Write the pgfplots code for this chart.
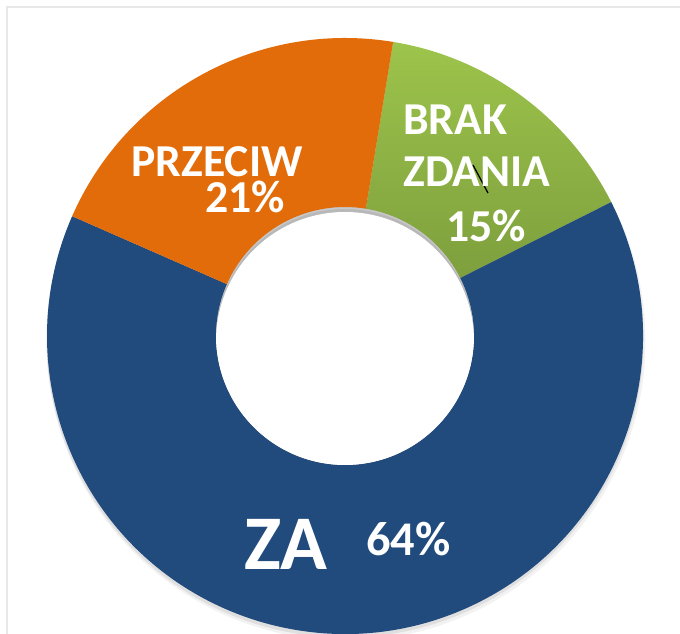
\documentclass[border=0pt]{standalone}
\usepackage{fontspec}
\setmainfont{Carlito}
\usepackage{pgfplots}
\pgfplotsset{compat=1.18}
\usepackage{pgfplotstable}

\definecolor{zaBlue}{HTML}{214A7D}
\definecolor{przOrange}{HTML}{E36C0A}
\definecolor{brakTop}{HTML}{9DC44B}
\definecolor{brakBot}{HTML}{76963A}
\definecolor{ramka}{HTML}{E8E8E8}

\pgfplotstableread{
label value
BRAK 15
ZA 64
PRZECIW 21
}\wyniki

% 1 px of the reference = 0.2 mm
\newcommand\Rout{59.6mm}
\newcommand\Rin{25.8mm}
\newcommand\Rdiff{33.8mm}
\newcommand\sector[3]{%
  \path[#3] (axis cs:345,298) ++(#1:\Rout) arc[start angle=#1,end angle=#2,radius=\Rout]
     -- ++({#2+180}:\Rdiff) arc[start angle=#2,end angle=#1,radius=\Rin] -- cycle;}

\begin{document}
\begin{tikzpicture}
\pgfplotstablegetelem{0}{value}\of\wyniki \let\vBrak\pgfplotsretval
\pgfplotstablegetelem{1}{value}\of\wyniki \let\vZa\pgfplotsretval
\pgfplotstablegetelem{2}{value}\of\wyniki \let\vPrz\pgfplotsretval
\pgfmathsetmacro\aA{80.7}
\pgfmathsetmacro\aB{\aA-3.6*\vBrak}
\pgfmathsetmacro\aC{\aB-3.6*\vZa}
\pgfmathsetmacro\aD{\aC-3.6*\vPrz}
\begin{axis}[
  x=0.2mm, y=0.2mm,
  xmin=0, xmax=680, ymin=0, ymax=634,
  hide axis,
]
\fill[white] (axis cs:0,0) rectangle (axis cs:680,634);
\draw[ramka, line width=0.3mm] (axis cs:7,0) -- (axis cs:7,627) -- (axis cs:680,627);

% cien pod pierscieniem
\fill[black, opacity=0.05] (axis cs:346,293) circle[radius=59.9mm];
\fill[black, opacity=0.08] (axis cs:345,295) circle[radius=59.7mm];

% wycinki
\sector{\aA}{\aB}{top color=brakTop, bottom color=brakBot}
\sector{\aB}{\aC}{fill=zaBlue}
\sector{\aC}{\aD}{fill=przOrange}

% cien w otworze (tylko u gory)
\begin{scope}
\clip (axis cs:345,298) circle[radius=\Rin];
\fill[black, opacity=0.10] (axis cs:345,298) circle[radius=\Rin];
\fill[black, opacity=0.08] (axis cs:345,296) circle[radius=\Rin];
\fill[white] (axis cs:345,293) circle[radius=\Rin];
\end{scope}

\draw[black, line width=0.25mm] (axis cs:473,469) -- (axis cs:488,441);

\begin{scope}[every node/.style={text=white, inner sep=0pt, anchor=base west}]
\node[font=\fontsize{26}{28}\selectfont\bfseries] at (axis cs:131,457) {PRZECIW};
\node[font=\fontsize{26}{28}\selectfont\bfseries] at (axis cs:205,421) {21\%};
\node[font=\fontsize{26}{28}\selectfont\bfseries] at (axis cs:403,499) {BRAK};
\node[font=\fontsize{26}{28}\selectfont\bfseries] at (axis cs:403,447) {ZDANIA};
\node[font=\fontsize{26}{28}\selectfont\bfseries] at (axis cs:446,392) {15\%};
\node[font=\fontsize{44}{48}\selectfont\bfseries] at (axis cs:244,64) {ZA};
\node[font=\fontsize{27.5}{30}\selectfont\bfseries] at (axis cs:366,78) {64\%};
\end{scope}
\end{axis}
\end{tikzpicture}
\end{document}
